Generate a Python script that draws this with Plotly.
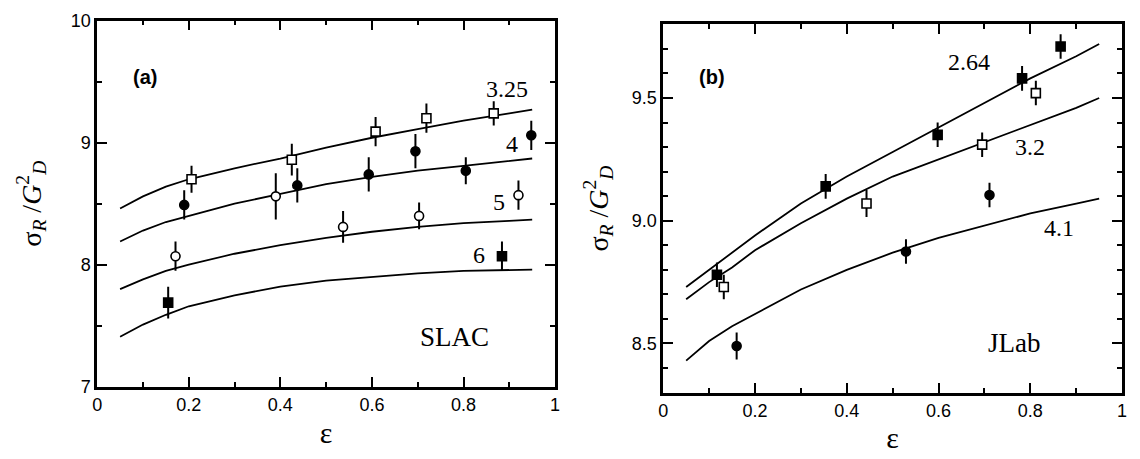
import plotly.graph_objects as go

# ---- theory curves ----
eps_curve = [0.05, 0.1, 0.15, 0.2, 0.3, 0.4, 0.5, 0.6, 0.7, 0.8, 0.9, 0.95]
slac_325 = [8.46, 8.56, 8.64, 8.70, 8.79, 8.87, 8.96, 9.04, 9.11, 9.18, 9.24, 9.27]
slac_4 = [8.19, 8.28, 8.35, 8.40, 8.50, 8.58, 8.66, 8.72, 8.77, 8.81, 8.85, 8.87]
slac_5 = [7.80, 7.88, 7.95, 8.00, 8.09, 8.16, 8.22, 8.27, 8.31, 8.34, 8.36, 8.37]
slac_6 = [7.41, 7.51, 7.59, 7.66, 7.75, 7.82, 7.87, 7.90, 7.93, 7.95, 7.96, 7.96]

jlab_264 = [8.73, 8.80, 8.87, 8.94, 9.07, 9.18, 9.28, 9.38, 9.48, 9.58, 9.67, 9.72]
jlab_32 = [8.68, 8.75, 8.81, 8.88, 8.99, 9.09, 9.18, 9.25, 9.32, 9.39, 9.46, 9.50]
jlab_41 = [8.43, 8.51, 8.57, 8.62, 8.72, 8.80, 8.87, 8.93, 8.98, 9.03, 9.07, 9.09]

# ---- SLAC data ----
s325_x = [0.206, 0.425, 0.608, 0.719, 0.866]
s325_y = [8.70, 8.86, 9.09, 9.20, 9.24]
s325_e = [0.11, 0.13, 0.12, 0.12, 0.10]

s4_x = [0.19, 0.437, 0.593, 0.695, 0.805, 0.948]
s4_y = [8.49, 8.65, 8.74, 8.93, 8.77, 9.06]
s4_e = [0.12, 0.14, 0.14, 0.14, 0.11, 0.12]

s5_x = [0.171, 0.39, 0.537, 0.703, 0.92]
s5_y = [8.07, 8.56, 8.31, 8.40, 8.57]
s5_e = [0.12, 0.19, 0.13, 0.11, 0.12]

s6_x = [0.155, 0.884]
s6_y = [7.69, 8.07]
s6_e = [0.13, 0.12]

# ---- JLab data ----
j264_x = [0.117, 0.354, 0.598, 0.782, 0.866]
j264_y = [8.78, 9.14, 9.35, 9.58, 9.71]
j264_e = [0.05, 0.05, 0.05, 0.05, 0.05]

j32_x = [0.132, 0.443, 0.695, 0.812]
j32_y = [8.73, 9.07, 9.31, 9.52]
j32_e = [0.05, 0.055, 0.05, 0.05]

j41_x = [0.16, 0.529, 0.711]
j41_y = [8.49, 8.875, 9.105]
j41_e = [0.055, 0.05, 0.05]

fig = go.Figure()

def curve(y, ax):
    fig.add_trace(go.Scatter(x=eps_curve, y=y, mode="lines", xaxis="x" + ax, yaxis="y" + ax,
                             line=dict(color="black", width=1.8), hoverinfo="skip"))

def pts(x, y, e, ax, symbol, filled):
    fig.add_trace(go.Scatter(x=x, y=y, mode="markers", xaxis="x" + ax, yaxis="y" + ax,
                             marker=dict(symbol=symbol, size=9, color="black" if filled else "white",
                                         line=dict(color="black", width=1.6)),
                             error_y=dict(type="data", array=e, visible=True, color="black", thickness=2, width=0)))

for c in [slac_325, slac_4, slac_5, slac_6]:
    curve(c, "")
for c in [jlab_264, jlab_32, jlab_41]:
    curve(c, "2")

pts(s325_x, s325_y, s325_e, "", "square", False)
pts(s4_x, s4_y, s4_e, "", "circle", True)
pts(s5_x, s5_y, s5_e, "", "circle", False)
pts(s6_x, s6_y, s6_e, "", "square", True)
pts(j264_x, j264_y, j264_e, "2", "square", True)
pts(j32_x, j32_y, j32_e, "2", "square", False)
pts(j41_x, j41_y, j41_e, "2", "circle", True)

serif = "Liberation Serif, Times New Roman, serif"
sans = "Liberation Sans, Arial, sans-serif"

ytitle = "σ<sub><i>R</i></sub> /<i>G</i><sup>2</sup><sub><i>D</i></sub>"

common_ax = dict(showline=True, linecolor="black", linewidth=2.5, mirror="ticks",
                 ticks="inside", ticklen=10, tickwidth=2, tickcolor="black",
                 showgrid=False, zeroline=False,
                 tickfont=dict(family=sans, size=18, color="black"))

fig.update_layout(
    width=1140, height=459, margin=dict(l=0, r=0, t=0, b=0),
    paper_bgcolor="white", plot_bgcolor="white", showlegend=False,
    xaxis=dict(domain=[0.0816, 0.4868], anchor="y", range=[0, 1], dtick=0.2, tick0=0,
               minor=dict(ticks="inside", ticklen=5, tickwidth=2, dtick=0.1, tick0=0, tickcolor="black"),
               title=dict(text="ε", font=dict(family=serif, size=30, color="black"), standoff=8),
               **common_ax),
    yaxis=dict(domain=[0.1416, 0.976], anchor="x", range=[7, 10], dtick=1, tick0=7,
               minor=dict(ticks="inside", ticklen=5, tickwidth=2, dtick=0.5, tick0=7, tickcolor="black"),
               title=dict(text=ytitle, font=dict(family=serif, size=28, color="black"), standoff=22),
               **common_ax),
    xaxis2=dict(domain=[0.5825, 0.9886], anchor="y2", range=[0, 1], dtick=0.2, tick0=0,
                minor=dict(ticks="inside", ticklen=5, tickwidth=2, dtick=0.1, tick0=0, tickcolor="black"),
                title=dict(text="ε", font=dict(family=serif, size=30, color="black"), standoff=8),
                **common_ax),
    yaxis2=dict(domain=[0.1285, 0.9673], anchor="x2", range=[8.3, 9.8], dtick=0.5, tick0=8.5,
                tickformat=".1f",
                minor=dict(ticks="inside", ticklen=5, tickwidth=2, dtick=0.1, tick0=8.5, tickcolor="black"),
                title=dict(text=ytitle, font=dict(family=serif, size=28, color="black"), standoff=16),
                **common_ax),
)

def ann(x, y, text, ax, font, size, bold=False):
    fig.add_annotation(x=x, y=y, xref="x" + ax, yref="y" + ax, text=("<b>%s</b>" % text) if bold else text,
                       showarrow=False, font=dict(family=font, size=size, color="black"))

ann(0.105, 9.54, "(a)", "", sans, 20, bold=True)
ann(0.895, 9.44, "3.25", "", serif, 24)
ann(0.907, 8.99, "4", "", serif, 24)
ann(0.877, 8.51, "5", "", serif, 24)
ann(0.833, 8.08, "6", "", serif, 24)
ann(0.78, 7.41, "SLAC", "", serif, 27)

ann(0.106, 9.585, "(b)", "2", sans, 20, bold=True)
ann(0.667, 9.645, "2.64", "2", serif, 24)
ann(0.80, 9.30, "3.2", "2", serif, 24)
ann(0.862, 8.97, "4.1", "2", serif, 24)
ann(0.765, 8.50, "JLab", "2", serif, 27)

fig.write_html("out.html")
